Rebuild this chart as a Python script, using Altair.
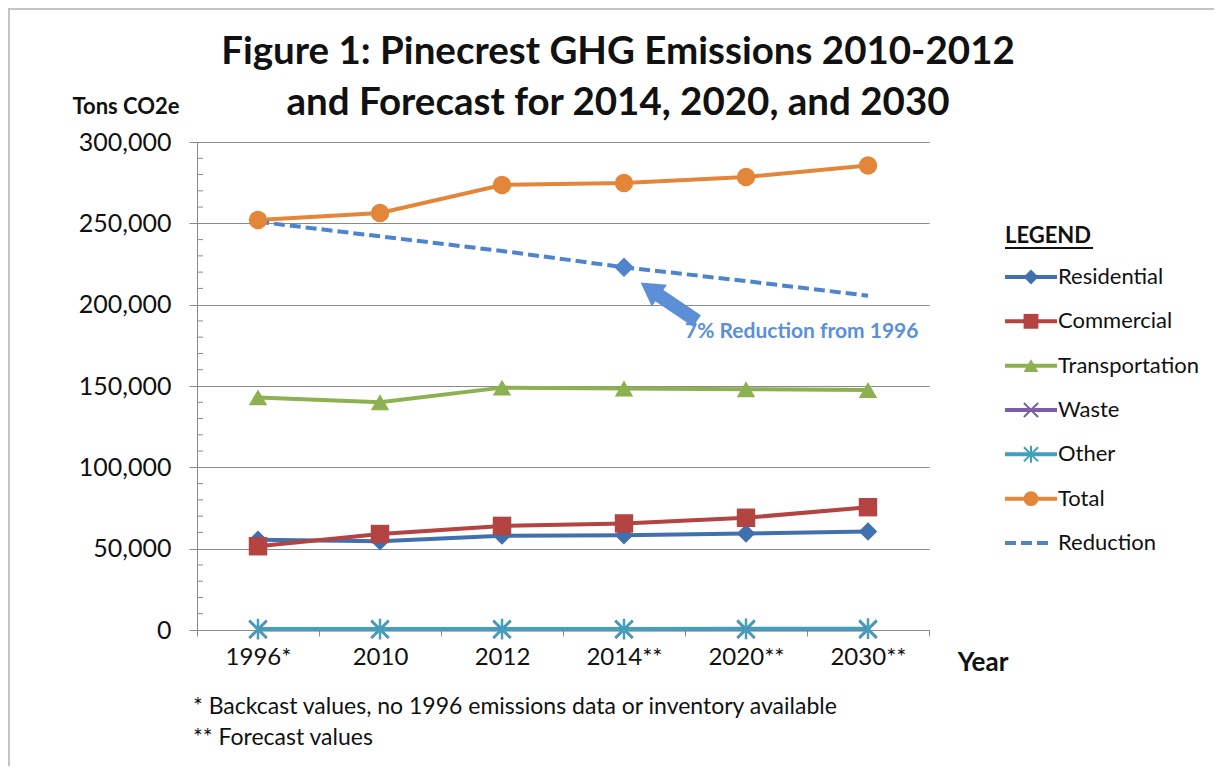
import altair as alt
import pandas as pd

# ---------------- data ----------------
years = ["1996*", "2010", "2012", "2014**", "2020**", "2030**"]
series_names = ["Residential", "Commercial", "Transportation", "Waste", "Other", "Total", "Reduction"]
residential = [55500, 54500, 58000, 58300, 59300, 60500]
commercial = [51500, 59000, 64000, 65500, 69000, 75500]
transportation = [143000, 140000, 149000, 148500, 148000, 147500]
waste = [300, 300, 300, 300, 300, 300]
other = [600, 600, 600, 600, 700, 800]
total = [252000, 256400, 273600, 274800, 278500, 285500]
reduction = [251000, 242000, 233000, 223000, 214500, 205500]

y_ticks = [0, 50000, 100000, 150000, 200000, 250000, 300000]
minor_ticks = [10000, 20000, 30000, 40000, 60000, 70000, 80000, 90000,
               110000, 120000, 130000, 140000, 160000, 170000, 180000, 190000,
               210000, 220000, 230000, 240000, 260000, 270000, 280000, 290000]

title_lines = ["Figure 1: Pinecrest GHG Emissions 2010-2012",
               "and Forecast for 2014, 2020, and 2030"]
footnotes = ["* Backcast values, no 1996 emissions data or inventory available",
             "** Forecast values"]

colors = ["#4170AE", "#B34442", "#8DB050", "#7B5EA7", "#42A0BA", "#E48639", "#4F84CC"]
X_PATH = "M-1,-1L1,1M-1,1L1,-1"
AST_PATH = "M-1,-1L1,1M-1,1L1,-1M0,-1.2L0,1.2"
shapes = ["diamond", "square", "triangle-up", X_PATH, AST_PATH, "circle", "diamond"]

values = [residential, commercial, transportation, waste, other, total, reduction]
rows = []
for name, vals in zip(series_names, values):
    for yr, v in zip(years, vals):
        rows.append({"series": name, "year": yr, "value": v})
df = pd.DataFrame(rows)

FONT = "Lato"
W, H = 732, 488
GRAY = "#8A8A8A"

color_scale = alt.Scale(domain=series_names, range=colors)
shape_scale = alt.Scale(domain=series_names, range=shapes)

x_enc = alt.X("year:O", sort=years,
              scale=alt.Scale(type="band", domain=years, paddingInner=0, paddingOuter=0),
              bandPosition=0.5,
              axis=alt.Axis(title=None, labelAngle=0, tickBand="extent", tickSize=6,
                            tickColor=GRAY, domainColor=GRAY, labelFontSize=24,
                            labelFont=FONT, labelColor="#111", labelPadding=9, grid=False))
y_axis = alt.Axis(title=None, values=y_ticks, labelExpr="format(datum.value, ',')",
                  labelFontSize=25, labelFont=FONT, labelColor="#111", tickSize=8,
                  tickColor=GRAY, domainColor=GRAY, gridColor=GRAY, grid=True, labelPadding=18)
y_enc = alt.Y("value:Q", scale=alt.Scale(domain=[0, 300000], nice=False), axis=y_axis)

base = alt.Chart(df)

minor = alt.Chart(pd.DataFrame({"value": minor_ticks})).mark_rule(color=GRAY, strokeWidth=1).encode(
    y=y_enc, x=alt.value(0), x2=alt.value(6))

solid = base.transform_filter(alt.datum.series != "Reduction").mark_line(strokeWidth=4).encode(
    x=x_enc, y=y_enc,
    color=alt.Color("series:N", scale=color_scale, legend=None),
    detail="series:N")

dashed = base.transform_filter(alt.datum.series == "Reduction").mark_line(
    strokeWidth=4, strokeDash=[11, 5]).encode(
    x=x_enc, y=y_enc,
    color=alt.Color("series:N", scale=color_scale, legend=None))

filled_pts = base.transform_filter(
    alt.FieldOneOfPredicate(field="series", oneOf=["Residential", "Commercial", "Transportation", "Total"])
).mark_point(filled=True, opacity=1, size=340).encode(
    x=x_enc, y=y_enc,
    color=alt.Color("series:N", scale=color_scale, legend=None),
    shape=alt.Shape("series:N", scale=shape_scale, legend=None))

red_pt = base.transform_filter(
    (alt.datum.series == "Reduction") & (alt.datum.year == "2014**")
).mark_point(filled=True, opacity=1, size=380).encode(
    x=x_enc, y=y_enc,
    color=alt.Color("series:N", scale=color_scale, legend=None),
    shape=alt.Shape("series:N", scale=shape_scale, legend=None))

stroke_pts = base.transform_filter(
    alt.FieldOneOfPredicate(field="series", oneOf=["Waste", "Other"])
).mark_point(filled=False, opacity=1, size=300, strokeWidth=2.5).encode(
    x=x_enc, y=y_enc,
    color=alt.Color("series:N", scale=color_scale, legend=None),
    shape=alt.Shape("series:N", scale=shape_scale, legend=None))

# annotation arrow + text
ann_blue = "#5B8FD6"
shaft = alt.Chart(pd.DataFrame({"a": [0]})).mark_rule(color=ann_blue, strokeWidth=14).encode(
    x=alt.value(460), y=alt.value(152), x2=alt.value(500), y2=alt.value(179))
head = alt.Chart(pd.DataFrame({"a": [0]})).mark_point(
    shape="triangle-up", filled=True, color=ann_blue, opacity=1, size=700, angle=305).encode(
    x=alt.value(453), y=alt.value(147))
ann_text = alt.Chart(pd.DataFrame({"a": [0]})).mark_text(
    text="7% Reduction from 1996", font=FONT, fontSize=21, fontWeight="bold",
    color=ann_blue, align="left", baseline="middle").encode(
    x=alt.value(488), y=alt.value(190))

# titles and labels
title = alt.Chart(pd.DataFrame({"t": title_lines, "i": [0, 1]})).mark_text(
    font=FONT, fontSize=38.5, fontWeight="bold", color="#111", align="center", baseline="middle").encode(
    text="t:N",
    x=alt.value(421),
    y=alt.Y("i:Q", scale=alt.Scale(domain=[0, 1], range=[-90, -39]), axis=None))

ytitle = alt.Chart(pd.DataFrame({"a": [0]})).mark_text(
    text="Tons CO2e", font=FONT, fontSize=22, fontWeight="bold", color="#111",
    align="center", baseline="middle").encode(x=alt.value(-71), y=alt.value(-35))

xtitle = alt.Chart(pd.DataFrame({"a": [0]})).mark_text(
    text="Year", font=FONT, fontSize=26, fontWeight="bold", color="#111",
    align="center", baseline="middle").encode(x=alt.value(786), y=alt.value(521))

foot = alt.Chart(pd.DataFrame({"t": footnotes, "i": [0, 1]})).mark_text(
    font=FONT, fontSize=23, color="#111", align="left", baseline="middle").encode(
    text="t:N",
    x=alt.value(-4),
    y=alt.Y("i:Q", scale=alt.Scale(domain=[0, 1], range=[565, 596]), axis=None))

# chart border (left and top edges, drawn as thin filled rectangles)
frame_left = alt.Chart(pd.DataFrame({"a": [0]})).mark_rect(color="#C4C4C4").encode(
    x=alt.value(-189), x2=alt.value(-187), y=alt.value(-134), y2=alt.value(624))
frame_top = alt.Chart(pd.DataFrame({"a": [0]})).mark_rect(color="#C4C4C4").encode(
    x=alt.value(-189), x2=alt.value(1017), y=alt.value(-134), y2=alt.value(-132))

main = alt.layer(minor, solid, dashed, filled_pts, stroke_pts, red_pt, shaft, head, ann_text)

# custom legend
leg_df = pd.DataFrame({"series": series_names, "idx": list(range(len(series_names)))})
leg_y = alt.Y("idx:Q", scale=alt.Scale(domain=[0, 6], range=[135, 401]), axis=None)
leg_base = alt.Chart(leg_df)
leg_lines = leg_base.transform_filter(alt.datum.series != "Reduction").mark_rule(strokeWidth=4).encode(
    x=alt.value(808), x2=alt.value(860), y=leg_y,
    color=alt.Color("series:N", scale=color_scale, legend=None))
leg_dash = leg_base.transform_filter(alt.datum.series == "Reduction").mark_rule(
    strokeWidth=4, strokeDash=[11, 5]).encode(
    x=alt.value(808), x2=alt.value(856), y=leg_y,
    color=alt.Color("series:N", scale=color_scale, legend=None))
leg_fpts = leg_base.transform_filter(
    alt.FieldOneOfPredicate(field="series", oneOf=["Residential", "Commercial", "Transportation", "Total"])
).mark_point(filled=True, opacity=1, size=220).encode(
    x=alt.value(834), y=leg_y,
    color=alt.Color("series:N", scale=color_scale, legend=None),
    shape=alt.Shape("series:N", scale=shape_scale, legend=None))
leg_spts = leg_base.transform_filter(
    alt.FieldOneOfPredicate(field="series", oneOf=["Waste", "Other"])
).mark_point(filled=False, opacity=1, size=200, strokeWidth=2).encode(
    x=alt.value(834), y=leg_y,
    color=alt.Color("series:N", scale=color_scale, legend=None),
    shape=alt.Shape("series:N", scale=shape_scale, legend=None))
leg_text = leg_base.mark_text(font=FONT, fontSize=22, color="#111", align="left", baseline="middle").encode(
    x=alt.value(861), y=leg_y, text="series:N")
leg_head = alt.Chart(pd.DataFrame({"a": [0]})).mark_text(
    text="LEGEND", font=FONT, fontSize=22, fontWeight="bold", color="#111",
    align="left", baseline="middle").encode(x=alt.value(808), y=alt.value(94))
leg_ul = alt.Chart(pd.DataFrame({"a": [0]})).mark_rule(color="#111", strokeWidth=2).encode(
    x=alt.value(808), x2=alt.value(896), y=alt.value(106))

legend = alt.layer(leg_lines, leg_dash, leg_fpts, leg_spts, leg_text, leg_head, leg_ul)

chart = alt.layer(frame_left, frame_top, main, legend, title, ytitle, xtitle, foot).resolve_scale(
    y="independent").properties(
    width=W, height=H,
    autosize=alt.AutoSizeParams(type="none"),
    padding={"left": 189, "top": 134, "right": 286, "bottom": 136},
    background="white",
).configure_view(strokeWidth=0)

chart.save("out.html", embed_options={"renderer": "svg", "actions": False})
